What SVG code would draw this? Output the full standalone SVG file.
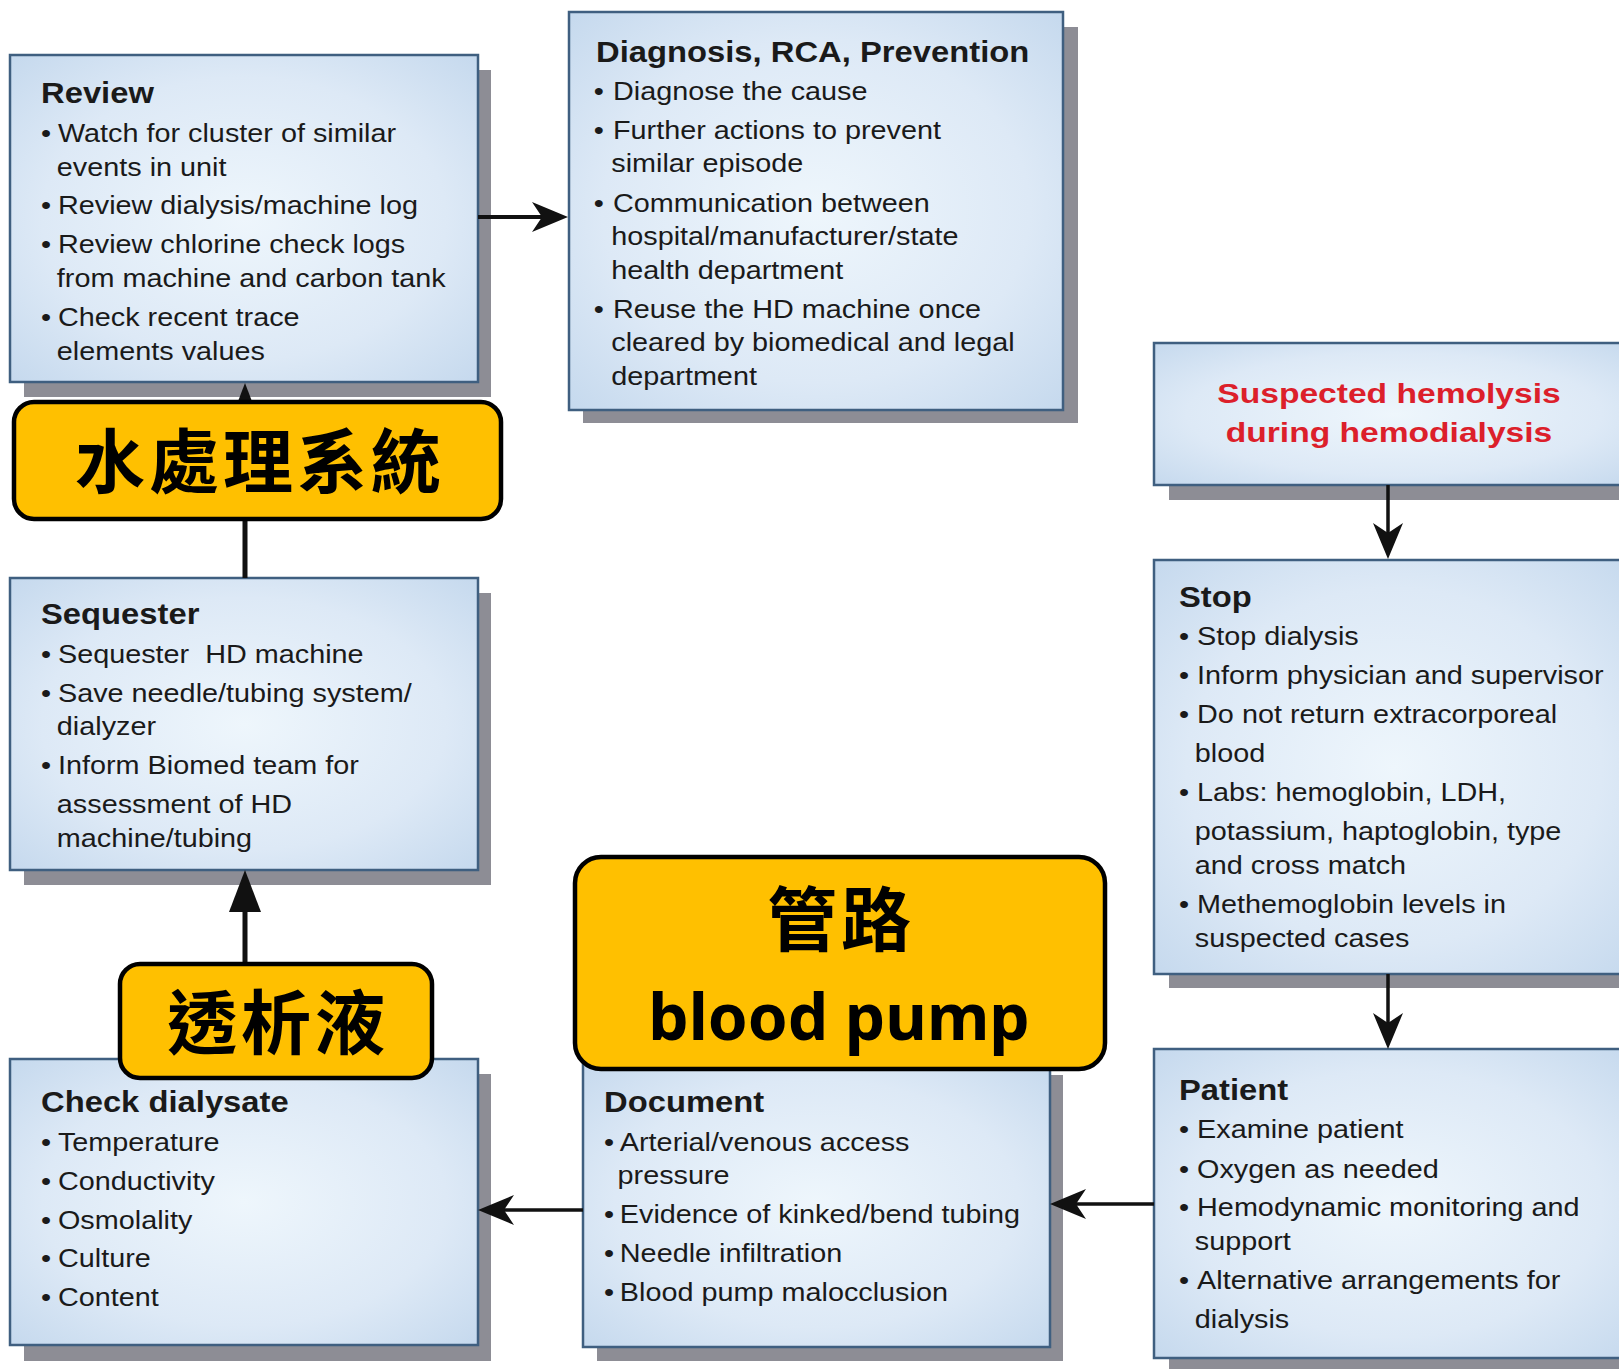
<svg xmlns="http://www.w3.org/2000/svg" width="1619" height="1369" viewBox="0 0 1619 1369">
<defs>
<radialGradient id="bg" cx="50%" cy="50%" r="72%">
<stop offset="0" stop-color="#eef6fc"/>
<stop offset="0.6" stop-color="#dde9f6"/>
<stop offset="1" stop-color="#c4d8ed"/>
</radialGradient>
<marker id="notch" viewBox="0 0 36 30" markerWidth="36" markerHeight="30" refX="14" refY="15" orient="auto" markerUnits="userSpaceOnUse">
<path d="M0,0 L36,15 L0,30 L10,15 Z" fill="#111"/>
</marker>
<marker id="tri" viewBox="0 0 42 32" markerWidth="42" markerHeight="32" refX="4" refY="16" orient="auto" markerUnits="userSpaceOnUse">
<path d="M0,0 L42,16 L0,32 Z" fill="#111"/>
</marker>
</defs>
<style>
.sh{fill:#8d8d95}
.bx{fill:url(#bg);stroke:#3f5f80;stroke-width:2.5}
.t{font-family:"Liberation Sans",Arial,sans-serif;fill:#1a1a1a}
.h{font-size:29px;font-weight:bold}
.b{font-size:25.5px}
.red{font-family:"Liberation Sans",Arial,sans-serif;font-size:28px;font-weight:bold;fill:#dc1f2b;text-anchor:middle}
.yl{fill:#ffc000;stroke:#000;stroke-width:4.5}
.cj{font-family:"Noto Sans CJK TC","Noto Sans CJK SC",sans-serif;font-weight:bold;font-size:70px;fill:#000;text-anchor:middle}
.en{font-family:"Noto Sans","Noto Sans CJK TC",sans-serif;font-weight:bold;font-size:64px;fill:#000;text-anchor:middle}
.c{stroke:#111;fill:none}
</style>

<g id="review">
<rect class="sh" x="24" y="70" width="467" height="327"/>
<rect class="bx" x="10" y="55" width="468" height="327"/>
<g class="t" transform="translate(41,0) scale(1.13,1)">
<text class="h" x="0" y="103">Review</text>
<text class="b"><tspan x="0" y="142">•</tspan><tspan x="15" y="142">Watch for cluster of similar</tspan><tspan x="14" y="176">events in unit</tspan><tspan x="0" y="214">•</tspan><tspan x="15" y="214">Review dialysis/machine log</tspan><tspan x="0" y="253">•</tspan><tspan x="15" y="253">Review chlorine check logs</tspan><tspan x="14" y="287">from machine and carbon tank</tspan><tspan x="0" y="326">•</tspan><tspan x="15" y="326">Check recent trace</tspan><tspan x="14" y="360">elements values</tspan></text>
</g>
</g>

<g id="diagnosis">
<rect class="sh" x="583" y="27" width="495" height="396"/>
<rect class="bx" x="569" y="12" width="494" height="398"/>
<g class="t" transform="translate(596,0) scale(1.13,1)">
<text class="h" x="0" y="62" font-size="29.5">Diagnosis, RCA, Prevention</text>
<text class="b"><tspan x="-2" y="100">•</tspan><tspan x="15" y="100">Diagnose the cause</tspan><tspan x="-2" y="139">•</tspan><tspan x="15" y="139">Further actions to prevent</tspan><tspan x="13.5" y="172">similar episode</tspan><tspan x="-2" y="212">•</tspan><tspan x="15" y="212">Communication between</tspan><tspan x="13.5" y="245">hospital/manufacturer/state</tspan><tspan x="13.5" y="279">health department</tspan><tspan x="-2" y="318">•</tspan><tspan x="15" y="318">Reuse the HD machine once</tspan><tspan x="13.5" y="351">cleared by biomedical and legal</tspan><tspan x="13.5" y="385">department</tspan></text>
</g>
</g>

<g id="suspected">
<rect class="sh" x="1169" y="358" width="480" height="142"/>
<rect class="bx" x="1154" y="343" width="480" height="142"/>
<g transform="translate(1389,0) scale(1.2,1)">
<text class="red" x="0" y="403">Suspected hemolysis</text>
<text class="red" x="0" y="442">during hemodialysis</text>
</g>
</g>

<g id="stop">
<rect class="sh" x="1169" y="576" width="480" height="412"/>
<rect class="bx" x="1154" y="560" width="480" height="414"/>
<g class="t" transform="translate(1179,0) scale(1.13,1)">
<text class="h" x="0" y="607">Stop</text>
<text class="b"><tspan x="0" y="645">•</tspan><tspan x="16" y="645">Stop dialysis</tspan><tspan x="0" y="684">•</tspan><tspan x="16" y="684">Inform physician and supervisor</tspan><tspan x="0" y="723">•</tspan><tspan x="16" y="723">Do not return extracorporeal</tspan><tspan x="14" y="762">blood</tspan><tspan x="0" y="801">•</tspan><tspan x="16" y="801">Labs: hemoglobin, LDH,</tspan><tspan x="14" y="840">potassium, haptoglobin, type</tspan><tspan x="14" y="874">and cross match</tspan><tspan x="0" y="913">•</tspan><tspan x="16" y="913">Methemoglobin levels in</tspan><tspan x="14" y="947">suspected cases</tspan></text>
</g>
</g>

<g id="patient">
<rect class="sh" x="1169" y="1064" width="480" height="310"/>
<rect class="bx" x="1154" y="1049" width="480" height="309"/>
<g class="t" transform="translate(1179,0) scale(1.13,1)">
<text class="h" x="0" y="1100">Patient</text>
<text class="b"><tspan x="0" y="1138">•</tspan><tspan x="16" y="1138">Examine patient</tspan><tspan x="0" y="1178">•</tspan><tspan x="16" y="1178">Oxygen as needed</tspan><tspan x="0" y="1216">•</tspan><tspan x="16" y="1216">Hemodynamic monitoring and</tspan><tspan x="14" y="1250">support</tspan><tspan x="0" y="1289">•</tspan><tspan x="16" y="1289">Alternative arrangements for</tspan><tspan x="14" y="1328">dialysis</tspan></text>
</g>
</g>

<g id="sequester">
<rect class="sh" x="24" y="593" width="467" height="292"/>
<rect class="bx" x="10" y="578" width="468" height="292"/>
<g class="t" transform="translate(41,0) scale(1.13,1)">
<text class="h" x="0" y="624">Sequester</text>
<text class="b"><tspan x="0" y="663">•</tspan><tspan x="15" y="663">Sequester&#160; HD machine</tspan><tspan x="0" y="702">•</tspan><tspan x="15" y="702">Save needle/tubing system/</tspan><tspan x="14" y="735">dialyzer</tspan><tspan x="0" y="774">•</tspan><tspan x="15" y="774">Inform Biomed team for</tspan><tspan x="14" y="813">assessment of HD</tspan><tspan x="14" y="847">machine/tubing</tspan></text>
</g>
</g>

<g id="check-dialysate">
<rect class="sh" x="24" y="1074" width="467" height="287"/>
<rect class="bx" x="10" y="1059" width="468" height="286"/>
<g class="t" transform="translate(41,0) scale(1.13,1)">
<text class="h" x="0" y="1112">Check dialysate</text>
<text class="b"><tspan x="0" y="1151">•</tspan><tspan x="15" y="1151">Temperature</tspan><tspan x="0" y="1190">•</tspan><tspan x="15" y="1190">Conductivity</tspan><tspan x="0" y="1229">•</tspan><tspan x="15" y="1229">Osmolality</tspan><tspan x="0" y="1267">•</tspan><tspan x="15" y="1267">Culture</tspan><tspan x="0" y="1306">•</tspan><tspan x="15" y="1306">Content</tspan></text>
</g>
</g>

<g id="document">
<rect class="sh" x="597" y="1075" width="466" height="286"/>
<rect class="bx" x="583" y="1060" width="467" height="287"/>
<g class="t" transform="translate(604,0) scale(1.13,1)">
<text class="h" x="0" y="1112">Document</text>
<text class="b"><tspan x="0" y="1151">•</tspan><tspan x="14" y="1151">Arterial/venous access</tspan><tspan x="12" y="1184">pressure</tspan><tspan x="0" y="1223">•</tspan><tspan x="14" y="1223">Evidence of kinked/bend tubing</tspan><tspan x="0" y="1262">•</tspan><tspan x="14" y="1262">Needle infiltration</tspan><tspan x="0" y="1301">•</tspan><tspan x="14" y="1301">Blood pump malocclusion</tspan></text>
</g>
</g>

<g id="connectors">
<line class="c" x1="478" y1="217" x2="546" y2="217" stroke-width="4" marker-end="url(#notch)"/>
<line class="c" x1="245" y1="578" x2="245" y2="421" stroke-width="5" marker-end="url(#tri)"/>
<line class="c" x1="245" y1="1059" x2="245" y2="908" stroke-width="5" marker-end="url(#tri)"/>
<line class="c" x1="583" y1="1210" x2="500" y2="1210" stroke-width="3.5" marker-end="url(#notch)"/>
<line class="c" x1="1154" y1="1204" x2="1072" y2="1204" stroke-width="3.5" marker-end="url(#notch)"/>
<line class="c" x1="1388" y1="485" x2="1388" y2="537" stroke-width="3.5" marker-end="url(#notch)"/>
<line class="c" x1="1388" y1="974" x2="1388" y2="1027" stroke-width="3.5" marker-end="url(#notch)"/>
</g>

<g id="label-water">
<rect class="yl" x="14" y="402" width="487" height="117" rx="20"/>
<text class="cj" x="260" y="488" letter-spacing="4">水處理系統</text>
</g>

<g id="label-dialysate">
<rect class="yl" x="120" y="964" width="312" height="114" rx="20"/>
<text class="cj" x="278" y="1049" letter-spacing="4">透析液</text>
</g>

<g id="label-tubing">
<rect class="yl" x="575" y="857" width="530" height="212" rx="26"/>
<text class="cj" x="841" y="946" letter-spacing="4">管路</text>
<text class="en" x="839" y="1040">blood pump</text>
</g>
</svg>
